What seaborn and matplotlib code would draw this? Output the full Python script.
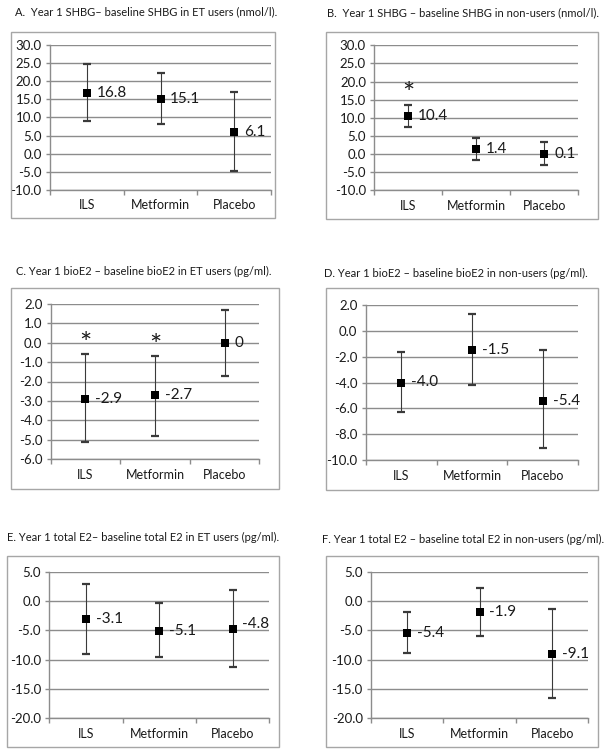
import matplotlib
matplotlib.use("Agg")
import matplotlib.pyplot as plt
import seaborn as sns
import pandas as pd
import numpy as np
from matplotlib.patches import Rectangle
from matplotlib.ticker import MultipleLocator, FixedLocator, FormatStrFormatter

sns.set_theme(style="white")
plt.rcParams["font.family"] = ["Lato", "DejaVu Sans"]

groups = ["ILS", "Metformin", "Placebo"]

# Panel A: SHBG, ET users
a_title = "A.  Year 1 SHBG\u2013 baseline SHBG in ET users (nmol/l)."
a_mean = [16.8, 15.1, 6.1]
a_low = [8.9, 8.1, -4.7]
a_high = [24.9, 22.2, 17.2]
a_labels = ["16.8", "15.1", "6.1"]
a_star = [False, False, False]

# Panel B: SHBG, non-users
b_title = "B.  Year 1 SHBG \u2013 baseline SHBG in non-users (nmol/l)."
b_mean = [10.4, 1.4, 0.1]
b_low = [7.4, -1.6, -3.1]
b_high = [13.5, 4.5, 3.4]
b_labels = ["10.4", "1.4", "0.1"]
b_star = [True, False, False]

# Panel C: bioE2, ET users
c_title = "C. Year 1 bioE2 \u2013 baseline bioE2 in ET users (pg/ml)."
c_mean = [-2.9, -2.7, 0.0]
c_low = [-5.1, -4.8, -1.7]
c_high = [-0.6, -0.7, 1.7]
c_labels = ["-2.9", "-2.7", "0"]
c_star = [True, True, False]

# Panel D: bioE2, non-users
d_title = "D. Year 1 bioE2 \u2013 baseline bioE2 in non-users (pg/ml)."
d_mean = [-4.0, -1.5, -5.4]
d_low = [-6.3, -4.2, -9.1]
d_high = [-1.6, 1.3, -1.5]
d_labels = ["-4.0", "-1.5", "-5.4"]
d_star = [False, False, False]

# Panel E: total E2, ET users
e_title = "E. Year 1 total E2\u2013 baseline total E2 in ET users (pg/ml)."
e_mean = [-3.1, -5.1, -4.8]
e_low = [-9.0, -9.6, -11.3]
e_high = [2.9, -0.3, 1.9]
e_labels = ["-3.1", "-5.1", "-4.8"]
e_star = [False, False, False]

# Panel F: total E2, non-users
f_title = "F. Year 1 total E2 \u2013 baseline total E2 in non-users (pg/ml)."
f_mean = [-5.4, -1.9, -9.1]
f_low = [-8.8, -5.9, -16.6]
f_high = [-1.8, 2.3, -1.3]
f_labels = ["-5.4", "-1.9", "-9.1"]
f_star = [False, False, False]

W, H = 615, 755
fig = plt.figure(figsize=(W / 100, H / 100), dpi=100)
fig.patch.set_facecolor("white")

panels = [
    dict(title=a_title, mean=a_mean, low=a_low, high=a_high, labels=a_labels, star=a_star,
         box=(11, 32, 275, 218), axes=(50, 45.3, 271, 189.7), ylim=(-10, 30), step=5,
         tpos=(15, 15), label_dy=[0, 0, 0]),
    dict(title=b_title, mean=b_mean, low=b_low, high=b_high, labels=b_labels, star=b_star,
         box=(325.7, 31.7, 597.7, 219), axes=(374.3, 45.3, 578.3, 190.3), ylim=(-10, 30), step=5,
         tpos=(326.7, 16.7), label_dy=[0, 0, 0]),
    dict(title=c_title, mean=c_mean, low=c_low, high=c_high, labels=c_labels, star=c_star,
         box=(11, 287.7, 278.7, 489.3), axes=(50.7, 304, 259.3, 459), ylim=(-6, 2), step=1,
         tpos=(16, 275), label_dy=[0, 0, 0]),
    dict(title=d_title, mean=d_mean, low=d_low, high=d_high, labels=d_labels, star=d_star,
         box=(325.7, 287.7, 597.7, 490), axes=(365.7, 305, 578.3, 460), ylim=(-10, 2), step=2,
         tpos=(324.3, 276.7), label_dy=[0, 0, 0]),
    dict(title=e_title, mean=e_mean, low=e_low, high=e_high, labels=e_labels, star=e_star,
         box=(7.3, 556, 279.3, 746.7), axes=(49.3, 571.7, 269.3, 718.3), ylim=(-20, 5), step=5,
         tpos=(6.7, 540.7), label_dy=[0, 0, 4]),
    dict(title=f_title, mean=f_mean, low=f_low, high=f_high, labels=f_labels, star=f_star,
         box=(325.7, 556, 597.7, 747.3), axes=(371, 571.7, 588.3, 718.3), ylim=(-20, 5), step=5,
         tpos=(321.7, 542.7), label_dy=[0, 0, 0]),
]

grid_c = "#8c8c8c"
box_c = "#a6a6a6"

for p in panels:
    bx0, by0, bx1, by1 = p["box"]
    fig.patches.append(Rectangle((bx0 / W, 1 - by1 / H), (bx1 - bx0) / W, (by1 - by0) / H,
                                 transform=fig.transFigure, fill=False, edgecolor=box_c,
                                 linewidth=1.0, zorder=0))
    fig.text(p["tpos"][0] / W, 1 - p["tpos"][1] / H, p["title"], ha="left", va="baseline",
             fontsize=8.0, color="#1a1a1a")

    l, t, r, b = p["axes"]
    ax = fig.add_axes([l / W, 1 - b / H, (r - l) / W, (b - t) / H])
    df = pd.DataFrame({"group": groups, "mean": p["mean"], "low": p["low"], "high": p["high"]})

    mean = np.array(p["mean"])
    yerr = [mean - np.array(p["low"]), np.array(p["high"]) - mean]
    eb = ax.errorbar(groups, mean, yerr=yerr, fmt="none", ecolor="#3a3a3a", elinewidth=0.8,
                     capsize=3.0, capthick=1.6, zorder=3)
    for cl in eb[1]:
        cl.set_color("black")
    sns.scatterplot(data=df, x="group", y="mean", marker="s", s=34, color="black",
                    edgecolor="black", linewidth=0, ax=ax, zorder=4, legend=False)

    for i, (m, lbl, dy) in enumerate(zip(p["mean"], p["labels"], p["label_dy"])):
        ax.annotate(lbl, (i, m), xytext=(7, dy), textcoords="offset points",
                    ha="left", va="center", fontsize=11, color="#1a1a1a")
    for i, (s, hi) in enumerate(zip(p["star"], p["high"])):
        if s:
            ax.annotate("*", (i, hi), xytext=(0, 7), textcoords="offset points",
                        ha="center", va="center", fontsize=21, color="#1a1a1a")

    ax.set_xlim(-0.5, 2.5)
    ax.set_ylim(*p["ylim"])
    ax.yaxis.set_major_locator(MultipleLocator(p["step"]))
    ax.yaxis.set_major_formatter(FormatStrFormatter("%.1f"))
    ax.grid(axis="y", color=grid_c, linewidth=1.0)
    ax.grid(axis="x", visible=False)
    ax.set_axisbelow(True)
    for side in ["top", "right"]:
        ax.spines[side].set_visible(False)
    for side in ["left", "bottom"]:
        ax.spines[side].set_color(grid_c)
        ax.spines[side].set_linewidth(1.0)
    ax.xaxis.set_minor_locator(FixedLocator([-0.5, 0.5, 1.5, 2.5]))
    ax.tick_params(axis="x", which="major", length=0, pad=7, labelsize=9.0, labelcolor="#1a1a1a")
    ax.tick_params(axis="x", which="minor", length=3.5, width=1.0, color=grid_c, direction="out",
                   bottom=True)
    ax.tick_params(axis="y", which="major", length=3, width=1.0, color=grid_c, left=True,
                   pad=3, labelsize=9.5, labelcolor="#1a1a1a")
    ax.set_xlabel("")
    ax.set_ylabel("")
    ax.set_facecolor("none")

fig.savefig("out.png", dpi=100, facecolor="white")
